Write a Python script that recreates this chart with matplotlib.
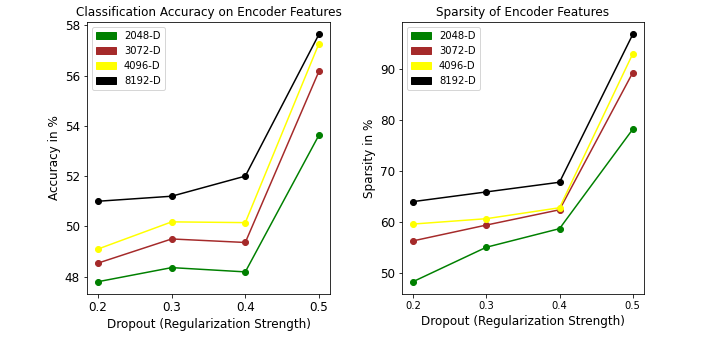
import matplotlib
matplotlib.use("Agg")
import matplotlib.pyplot as plt
import matplotlib.patches as mpatches

dropout = [0.2, 0.3, 0.4, 0.5]
labels = ["2048-D", "3072-D", "4096-D", "8192-D"]
colors = ["green", "brown", "yellow", "black"]

acc_2048 = [47.8, 48.36, 48.19, 53.63]
acc_3072 = [48.54, 49.5, 49.36, 56.17]
acc_4096 = [49.1, 50.18, 50.15, 57.27]
acc_8192 = [51.0, 51.2, 52.0, 57.64]

sp_2048 = [48.2, 54.95, 58.6, 78.1]
sp_3072 = [56.2, 59.3, 62.3, 89.2]
sp_4096 = [59.5, 60.55, 62.7, 92.9]
sp_8192 = [63.9, 65.8, 67.7, 96.7]

acc = [acc_2048, acc_3072, acc_4096, acc_8192]
sparsity = [sp_2048, sp_3072, sp_4096, sp_8192]

# original looks like a 72 dpi figure
DPI = 72
fig = plt.figure(figsize=(709 / DPI, 338 / DPI), dpi=DPI)
ax1 = fig.add_axes([0.1227, 0.130, 0.3427, 0.805])
ax2 = fig.add_axes([0.567, 0.130, 0.341, 0.805])


def draw(ax, series, title, ylabel, xtick_size, ytick_size):
    for vals, c in zip(series, colors):
        ax.plot(dropout, vals, color=c, marker="o", linewidth=1.5, markersize=6)
    ax.set_title(title, fontsize=12)
    ax.set_xlabel("Dropout (Regularization Strength)", fontsize=12)
    ax.set_ylabel(ylabel, fontsize=12)
    ax.set_xticks(dropout)
    ax.tick_params(axis="x", labelsize=xtick_size)
    ax.tick_params(axis="y", labelsize=ytick_size)
    handles = [mpatches.Patch(color=c, label=l) for c, l in zip(colors, labels)]
    ax.legend(handles=handles, loc="upper left", fontsize=10)


draw(ax1, acc, "Classification Accuracy on Encoder Features", "Accuracy in %", 12, 12)
draw(ax2, sparsity, "Sparsity of Encoder Features", "Sparsity in %", 10, 12)

fig.savefig("out.png", dpi=DPI)
